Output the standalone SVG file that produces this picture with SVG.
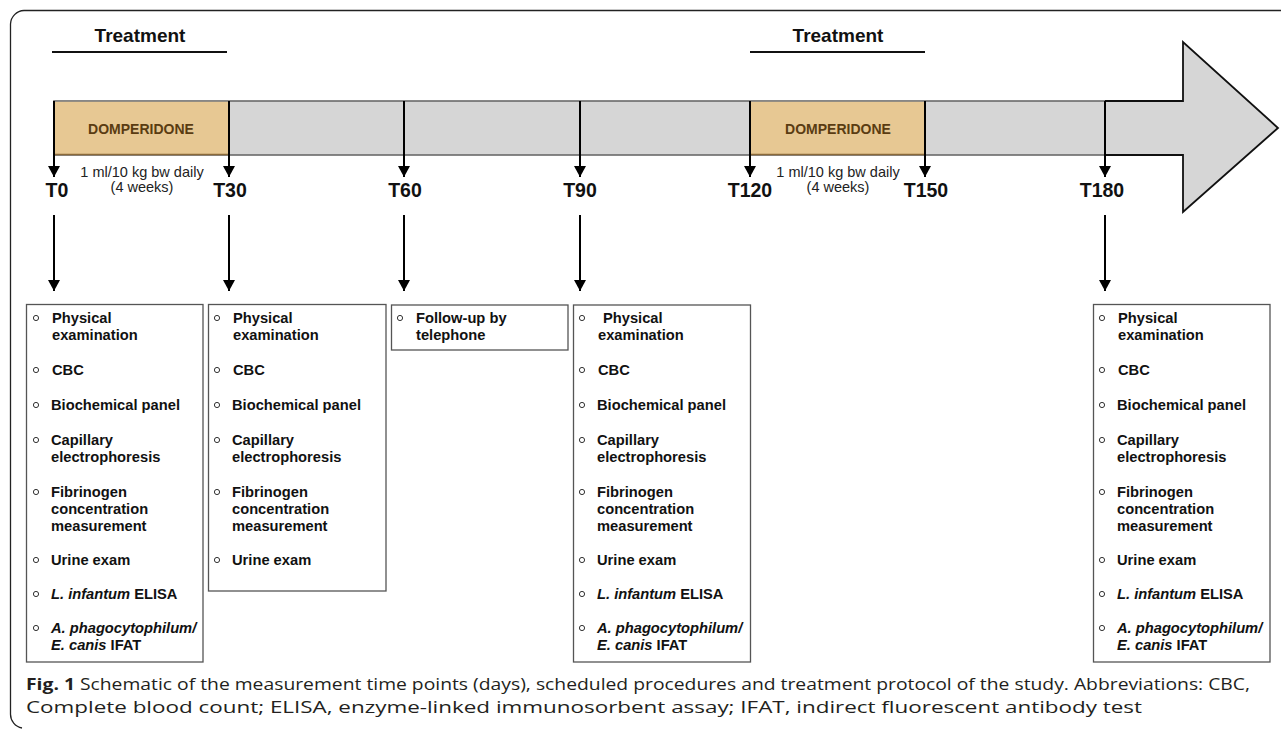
<svg xmlns="http://www.w3.org/2000/svg" width="1281" height="730" viewBox="0 0 1281 730">
<style>
.frame{fill:none;stroke:#222;stroke-width:1.3}
.bar{fill:#d6d6d6;stroke:#6a6a6a;stroke-width:1.6}
.drug{fill:#e7c893;stroke:none}
.drugt{font-family:"Liberation Sans",Arial,sans-serif;font-weight:bold;font-size:14px;fill:#5a3c12;text-anchor:middle}
.treat{font-family:"Liberation Sans",Arial,sans-serif;font-weight:bold;font-size:19px;fill:#111;text-anchor:middle}
.uline{stroke:#111;stroke-width:2.2}
.dose{font-family:"Liberation Sans",Arial,sans-serif;font-size:14.5px;fill:#222;text-anchor:middle}
.tl{font-family:"Liberation Sans",Arial,sans-serif;font-weight:bold;font-size:19.5px;fill:#111;text-anchor:middle}
.box{fill:#fff;stroke:#555;stroke-width:1.3}
.bt{font-family:"Liberation Sans",Arial,sans-serif;font-weight:bold;font-size:14.7px;fill:#111}
.it{font-style:italic}
.bul{fill:none;stroke:#333;stroke-width:1}
.conn{stroke:#000;stroke-width:2;fill:none}
.cap{font-family:"Open Sans","Noto Sans",sans-serif;font-size:16px;fill:#231f20}
</style>
<defs>
<marker id="ah" viewBox="0 0 11 12" refX="11" refY="6" markerWidth="11" markerHeight="12" markerUnits="userSpaceOnUse" orient="auto">
<path d="M0,0 L11,6 L0,12 z" fill="#000"/>
</marker>
</defs>
<rect width="1281" height="730" fill="#fff"/>
<path class="frame" d="M1281,10.5 H24 A14,14 0 0 0 10.5,24 V714 A14,14 0 0 0 22,728"/>

<g id="treatment1">
<text class="treat" x="140" y="42">Treatment</text>
<line class="uline" x1="52" y1="52" x2="227" y2="52"/>
</g>
<g id="treatment2">
<text class="treat" x="838" y="42">Treatment</text>
<line class="uline" x1="750" y1="52" x2="925" y2="52"/>
</g>

<g id="timeline">
<rect class="bar" x="54" y="101" width="1060" height="54"/>
<rect class="drug" x="54.8" y="101.8" width="174.2" height="52.4"/>
<rect class="drug" x="750" y="101.8" width="175" height="52.4"/>
<line x1="54" y1="154.5" x2="229" y2="154.5" stroke="#8a6a3a" stroke-width="1.6"/>
<line x1="750" y1="154.5" x2="925" y2="154.5" stroke="#8a6a3a" stroke-width="1.6"/>
<polygon points="1105,101 1183,101 1183,42 1278,128 1183,212 1183,155 1105,155" fill="#d6d6d6"/>
<polyline points="1105,101 1183,101 1183,42 1278,128 1183,212 1183,155 1105,155" fill="none" stroke="#111" stroke-width="1.8"/>
<text class="drugt" x="141" y="134">DOMPERIDONE</text>
<text class="drugt" x="838" y="134">DOMPERIDONE</text>
</g>

<g id="doses">
<text class="dose" x="142" y="177">1 ml/10 kg bw daily</text>
<text class="dose" x="142" y="192">(4 weeks)</text>
<text class="dose" x="838" y="177">1 ml/10 kg bw daily</text>
<text class="dose" x="838" y="192">(4 weeks)</text>
</g>

<g id="timepoints">
<text class="tl" x="57" y="197">T0</text>
<text class="tl" x="230" y="197">T30</text>
<text class="tl" x="405" y="197">T60</text>
<text class="tl" x="580" y="197">T90</text>
<text class="tl" x="750" y="197">T120</text>
<text class="tl" x="926" y="197">T150</text>
<text class="tl" x="1102" y="197">T180</text>
</g>

<g id="connectors">
<line class="conn" x1="54" y1="101" x2="54" y2="177" marker-end="url(#ah)"/>
<line class="conn" x1="229" y1="101" x2="229" y2="177" marker-end="url(#ah)"/>
<line class="conn" x1="404" y1="101" x2="404" y2="177" marker-end="url(#ah)"/>
<line class="conn" x1="580" y1="101" x2="580" y2="177" marker-end="url(#ah)"/>
<line class="conn" x1="750" y1="101" x2="750" y2="177" marker-end="url(#ah)"/>
<line class="conn" x1="925" y1="101" x2="925" y2="177" marker-end="url(#ah)"/>
<line class="conn" x1="1105" y1="101" x2="1105" y2="177" marker-end="url(#ah)"/>
<line class="conn" x1="54" y1="215" x2="54" y2="291" marker-end="url(#ah)"/>
<line class="conn" x1="229" y1="215" x2="229" y2="291" marker-end="url(#ah)"/>
<line class="conn" x1="404" y1="215" x2="404" y2="291" marker-end="url(#ah)"/>
<line class="conn" x1="580" y1="215" x2="580" y2="291" marker-end="url(#ah)"/>
<line class="conn" x1="1105" y1="215" x2="1105" y2="291" marker-end="url(#ah)"/>
</g>

<g id="box-T0">
<rect class="box" x="26.5" y="304.5" width="176.5" height="357.5"/>
<g transform="translate(0,0)">
<circle class="bul" cx="36" cy="318" r="2.6"/><text class="bt" x="52" y="323">Physical</text><text class="bt" x="52" y="340">examination</text>
<circle class="bul" cx="36" cy="370" r="2.6"/><text class="bt" x="52" y="375">CBC</text>
<circle class="bul" cx="36" cy="405" r="2.6"/><text class="bt" x="51" y="410">Biochemical panel</text>
<circle class="bul" cx="36" cy="440" r="2.6"/><text class="bt" x="51" y="445">Capillary</text><text class="bt" x="51" y="462">electrophoresis</text>
<circle class="bul" cx="36" cy="492" r="2.6"/><text class="bt" x="51" y="497">Fibrinogen</text><text class="bt" x="51" y="514">concentration</text><text class="bt" x="51" y="531">measurement</text>
<circle class="bul" cx="36" cy="560" r="2.6"/><text class="bt" x="51" y="565">Urine exam</text>
<circle class="bul" cx="36" cy="594" r="2.6"/><text class="bt" x="51" y="599"><tspan class="it">L. infantum</tspan> ELISA</text>
<circle class="bul" cx="36" cy="628" r="2.6"/><text class="bt" x="51" y="633"><tspan class="it">A. phagocytophilum/</tspan></text><text class="bt" x="51" y="650"><tspan class="it">E. canis</tspan> IFAT</text>
</g>
</g>

<g id="box-T30">
<rect class="box" x="208.5" y="304.5" width="177.5" height="286.5"/>
<g transform="translate(181,0)">
<circle class="bul" cx="36" cy="318" r="2.6"/><text class="bt" x="52" y="323">Physical</text><text class="bt" x="52" y="340">examination</text>
<circle class="bul" cx="36" cy="370" r="2.6"/><text class="bt" x="52" y="375">CBC</text>
<circle class="bul" cx="36" cy="405" r="2.6"/><text class="bt" x="51" y="410">Biochemical panel</text>
<circle class="bul" cx="36" cy="440" r="2.6"/><text class="bt" x="51" y="445">Capillary</text><text class="bt" x="51" y="462">electrophoresis</text>
<circle class="bul" cx="36" cy="492" r="2.6"/><text class="bt" x="51" y="497">Fibrinogen</text><text class="bt" x="51" y="514">concentration</text><text class="bt" x="51" y="531">measurement</text>
<circle class="bul" cx="36" cy="560" r="2.6"/><text class="bt" x="51" y="565">Urine exam</text>
</g>
</g>

<g id="box-T60">
<rect class="box" x="391.5" y="305" width="176.5" height="45"/>
<circle class="bul" cx="400" cy="318" r="2.6"/><text class="bt" x="416" y="323">Follow-up by</text><text class="bt" x="416" y="340">telephone</text>
</g>

<g id="box-T90">
<rect class="box" x="573.5" y="305" width="177" height="357"/>
<g transform="translate(546,0)">
<circle class="bul" cx="36" cy="318" r="2.6"/><text class="bt" x="57" y="323">Physical</text><text class="bt" x="52" y="340">examination</text>
<circle class="bul" cx="36" cy="370" r="2.6"/><text class="bt" x="52" y="375">CBC</text>
<circle class="bul" cx="36" cy="405" r="2.6"/><text class="bt" x="51" y="410">Biochemical panel</text>
<circle class="bul" cx="36" cy="440" r="2.6"/><text class="bt" x="51" y="445">Capillary</text><text class="bt" x="51" y="462">electrophoresis</text>
<circle class="bul" cx="36" cy="492" r="2.6"/><text class="bt" x="51" y="497">Fibrinogen</text><text class="bt" x="51" y="514">concentration</text><text class="bt" x="51" y="531">measurement</text>
<circle class="bul" cx="36" cy="560" r="2.6"/><text class="bt" x="51" y="565">Urine exam</text>
<circle class="bul" cx="36" cy="594" r="2.6"/><text class="bt" x="51" y="599"><tspan class="it">L. infantum</tspan> ELISA</text>
<circle class="bul" cx="36" cy="628" r="2.6"/><text class="bt" x="51" y="633"><tspan class="it">A. phagocytophilum/</tspan></text><text class="bt" x="51" y="650"><tspan class="it">E. canis</tspan> IFAT</text>
</g>
</g>

<g id="box-T180">
<rect class="box" x="1093.5" y="304.5" width="176.5" height="357.5"/>
<g transform="translate(1066,0)">
<circle class="bul" cx="36" cy="318" r="2.6"/><text class="bt" x="52" y="323">Physical</text><text class="bt" x="52" y="340">examination</text>
<circle class="bul" cx="36" cy="370" r="2.6"/><text class="bt" x="52" y="375">CBC</text>
<circle class="bul" cx="36" cy="405" r="2.6"/><text class="bt" x="51" y="410">Biochemical panel</text>
<circle class="bul" cx="36" cy="440" r="2.6"/><text class="bt" x="51" y="445">Capillary</text><text class="bt" x="51" y="462">electrophoresis</text>
<circle class="bul" cx="36" cy="492" r="2.6"/><text class="bt" x="51" y="497">Fibrinogen</text><text class="bt" x="51" y="514">concentration</text><text class="bt" x="51" y="531">measurement</text>
<circle class="bul" cx="36" cy="560" r="2.6"/><text class="bt" x="51" y="565">Urine exam</text>
<circle class="bul" cx="36" cy="594" r="2.6"/><text class="bt" x="51" y="599"><tspan class="it">L. infantum</tspan> ELISA</text>
<circle class="bul" cx="36" cy="628" r="2.6"/><text class="bt" x="51" y="633"><tspan class="it">A. phagocytophilum/</tspan></text><text class="bt" x="51" y="650"><tspan class="it">E. canis</tspan> IFAT</text>
</g>
</g>

<g id="caption">
<text class="cap" x="26" y="690" textLength="1224" lengthAdjust="spacingAndGlyphs"><tspan font-weight="bold">Fig. 1</tspan>  Schematic of the measurement time points (days), scheduled procedures and treatment protocol of the study. Abbreviations: CBC,</text>
<text class="cap" x="26" y="713" textLength="1116" lengthAdjust="spacingAndGlyphs">Complete blood count; ELISA, enzyme-linked immunosorbent assay; IFAT, indirect fluorescent antibody test</text>
</g>
</svg>
